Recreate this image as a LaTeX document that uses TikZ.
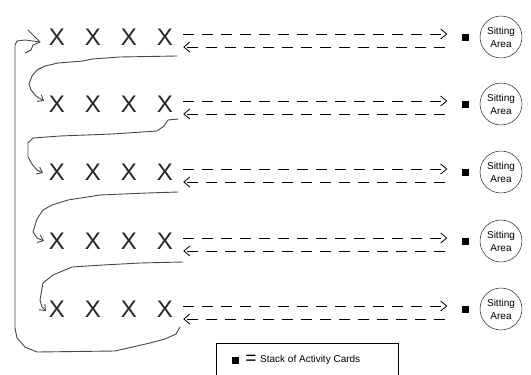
\documentclass[tikz,border=0pt]{standalone}
\usepackage{fontspec}
\setmainfont{Liberation Sans}
\usetikzlibrary{arrows.meta}
\begin{document}
\begin{tikzpicture}[x=1pt,y=-1pt,
  xletter/.style={inner sep=0pt, font=\fontsize{24}{24}\selectfont, text=black!85},
  cardstack/.style={fill=black, minimum size=7pt, inner sep=0pt},
  seat/.style={draw, circle, minimum size=42pt, inner sep=0pt, align=center,
               font=\fontsize{10}{13}\selectfont},
  walkline/.style={dash pattern=on 11pt off 8pt, line width=0.8pt},
  walktip/.style={-{Straight Barb[length=6pt,width=10pt]}},
  pathline/.style={draw=black!72, line width=0.9pt, line join=round, line cap=round},
  looptip/.style={-{Straight Barb[length=5pt,width=8pt]}},
]
\useasboundingbox (0,0) rectangle (531,375);

% five rows of players, each with a stack of cards and a sitting area
\foreach \r/\y in {1/37,2/104,3/172,4/241,5/309}{
  \foreach \c/\x in {1/57,2/93,3/129,4/165}
    \node[xletter] (x\r-\c) at (\x,\y) {X};
  \node[cardstack] (s\r) at (465,\y) {};
  \node[seat] (c\r) at (501,\y) {Sitting\\Area};
  \draw[walkline, walktip, shorten <=10pt, shorten >=14pt]
    ([yshift=3pt]x\r-4.east) -- ([yshift=3pt]s\r.west);
  \draw[walkline, walktip, shorten <=16pt, shorten >=10pt]
    ([yshift=-10pt]s\r.west) -- ([yshift=-10pt]x\r-4.east);
}

% rotation path between the rows
\coordinate (o1) at (177,56);  \coordinate (i2) at (44,101);
\coordinate (o2) at (178,119); \coordinate (i3) at (43,173);
\coordinate (o3) at (178,192); \coordinate (i4) at (44,241);
\coordinate (o4) at (183,262); \coordinate (i5) at (46,311);
\coordinate (o5) at (180,327); \coordinate (i1) at (40,42);

\draw[pathline, looptip] (o1) -- (120,57) -- (92,59) -- (83,61) -- (58,63)
  -- (45,66) -- (37,70) -- (32,76) -- (29,84) -- (31,90) -- (36,96) -- (i2);
\draw[pathline, looptip] (o2) -- (168,120) -- (164,126) -- (157,131) -- (112,134)
  -- (60,136) -- (33,138) -- (28,143) -- (28,157) -- (32,164) -- (37,170) -- (i3);
\draw[pathline, looptip] (o3) -- (147,193) -- (100,195) -- (68,200) -- (52,205)
  -- (43,210) -- (37,219) -- (33,232) -- (37,238) -- (i4);
\draw[pathline, looptip] (o4) -- (140,263) -- (103,265) -- (72,267) -- (53,275)
  -- (43,283) -- (40,300) -- (42,307) -- (i5);
\draw[pathline] (o5) -- (176,334) -- (165,339) -- (150,343) -- (115,351)
  -- (37,352) -- (25,347) -- (17,338) -- (15,328) -- (15,45) -- (17,41)
  -- (25,40) -- (33,41) -- (i1);
% hand-drawn head where the path re-enters the first row
\draw[pathline] (28,30) -- (33,35) -- (i1) -- (33,45) -- (31,50) -- (25,53);

% legend
\node[draw, minimum width=182pt, minimum height=38pt, inner sep=0pt] (key) at (307,362) {};
\node[cardstack] (keysq) at (235,360) {};
\node[inner sep=0pt, font=\fontsize{19}{19}\selectfont] (keyeq) at (251,360) {=};
\node[anchor=west, inner sep=0pt, font=\fontsize{10}{12}\selectfont] (keytxt) at (260,360)
  {Stack of Activity Cards};
\end{tikzpicture}
\end{document}
